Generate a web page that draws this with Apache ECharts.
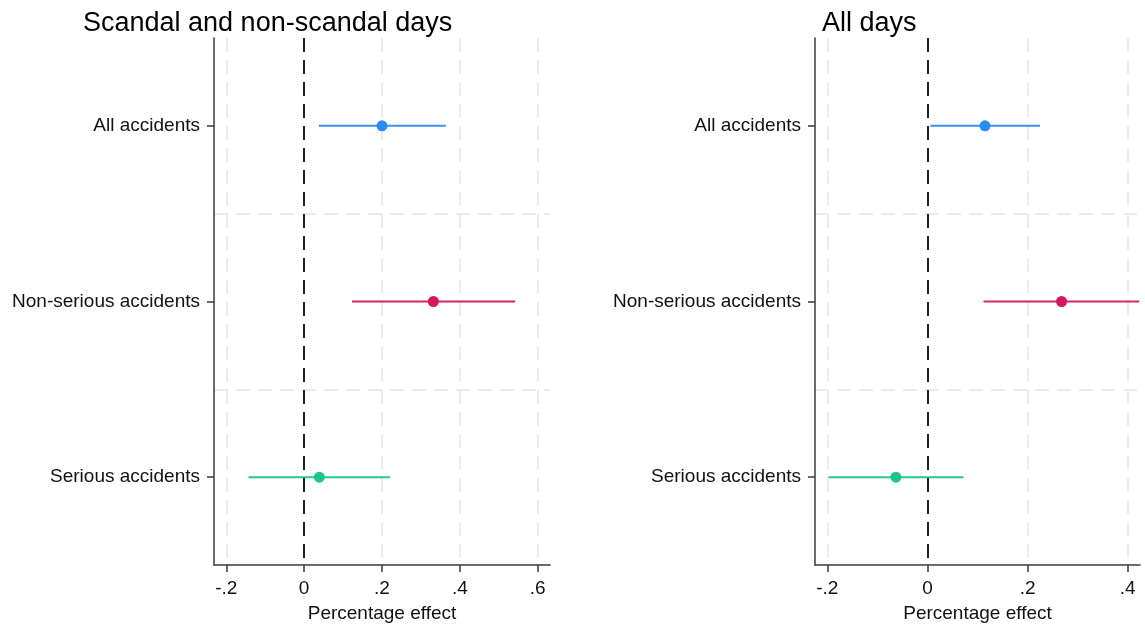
<!DOCTYPE html>
<html>
<head>
<meta charset="utf-8">
<script src="https://cdn.jsdelivr.net/npm/echarts@6/dist/echarts.min.js"></script>
<style>
  html, body { margin: 0; padding: 0; background: #fff; }
  #chart { width: 1145px; height: 628px; }
</style>
</head>
<body>
<div id="chart"></div>
<script>
// Outcome categories (top to bottom)
const categories = ['All accidents', 'Non-serious accidents', 'Serious accidents'];

// Scandal and non-scandal days: point estimates with confidence bounds
const scandalEst = [0.200, 0.332, 0.039];
const scandalLo  = [0.038, 0.123, -0.143];
const scandalHi  = [0.364, 0.542, 0.221];

// All days: point estimates with confidence bounds
const allEst = [0.115, 0.268, -0.063];
const allLo  = [0.006, 0.112, -0.198];
const allHi  = [0.225, 0.423, 0.072];

// Tick values for each panel's x axis
const leftTicks  = [-0.2, 0, 0.2, 0.4, 0.6];
const rightTicks = [-0.2, 0, 0.2, 0.4];

const colors = ['#2b8cf0', '#d7165b', '#19c68a'];
const FONT = 'Liberation Sans, Arial, Helvetica, sans-serif';

// Stata-style tick labels: -.2, 0, .2 ...
function fmt(v) {
  if (Math.abs(v) < 1e-9) return '0';
  return String(+v.toFixed(4)).replace('0.', '.');
}

function xAxisFor(gridIndex, ticks, min, max) {
  return {
    type: 'value', gridIndex: gridIndex, min: min, max: max,
    name: 'Percentage effect', nameLocation: 'middle', nameGap: 39,
    nameTextStyle: { fontFamily: FONT, fontSize: 19, color: '#111' },
    axisLine: { show: true, onZero: false, lineStyle: { color: '#3a3a3a', width: 1.5 } },
    axisTick: { show: true, length: 7, customValues: ticks, lineStyle: { color: '#3a3a3a', width: 1.5 } },
    axisLabel: { customValues: ticks, formatter: fmt, margin: 14, fontFamily: FONT, fontSize: 19, color: '#111' },
    splitLine: { show: true, showMinLine: true, showMaxLine: true,
      lineStyle: { color: '#ebebeb', width: 2, type: [14, 8] } }
  };
}

function yAxisFor(gridIndex) {
  return {
    type: 'category', gridIndex: gridIndex, data: categories, inverse: true,
    boundaryGap: true, position: 'left',
    axisLine: { show: true, onZero: false, lineStyle: { color: '#3a3a3a', width: 1.5 } },
    axisTick: { show: true, alignWithLabel: true, length: 7, lineStyle: { color: '#3a3a3a', width: 1.5 } },
    axisLabel: { margin: 14, fontFamily: FONT, fontSize: 19, color: '#111', padding: [4, 0, 0, 0] },
    splitLine: { show: true, showMinLine: false, showMaxLine: false,
      lineStyle: { color: '#ebebeb', width: 2, type: [14, 8] } }
  };
}

function whiskerSeries(idx, lo, hi) {
  return {
    type: 'custom', xAxisIndex: idx, yAxisIndex: idx, z: 2,
    encode: { x: [0, 1], y: 2 },
    data: lo.map((l, i) => [l, hi[i], i]),
    renderItem: function (params, api) {
      const a = api.coord([api.value(0), api.value(2)]);
      const b = api.coord([api.value(1), api.value(2)]);
      return {
        type: 'line',
        shape: { x1: a[0], y1: a[1], x2: b[0], y2: b[1] },
        style: { stroke: colors[params.dataIndex], lineWidth: 2, opacity: 0.95 }
      };
    },
    silent: true
  };
}

function zeroLineSeries(idx) {
  return {
    type: 'scatter', xAxisIndex: idx, yAxisIndex: idx, z: 3, data: [],
    markLine: {
      silent: true, symbol: 'none', label: { show: false },
      lineStyle: { color: '#222', width: 2, type: [14, 8] },
      data: [{ xAxis: 0 }]
    }
  };
}

function pointSeries(idx, est) {
  return {
    type: 'scatter', xAxisIndex: idx, yAxisIndex: idx, z: 4,
    symbol: 'circle', symbolSize: 11,
    data: est.map((v, i) => [v, i]),
    itemStyle: { color: p => colors[p.dataIndex], opacity: 1 },
    silent: true
  };
}

const chart = echarts.init(document.getElementById('chart'), null, { renderer: 'canvas' });
chart.setOption({
  backgroundColor: '#fff',
  animation: false,
  title: [
    { text: 'Scandal and non-scandal days', left: 78, top: 5,
      textStyle: { fontFamily: FONT, fontSize: 27, fontWeight: 'normal', color: '#000' } },
    { text: 'All days', left: 817, top: 5,
      textStyle: { fontFamily: FONT, fontSize: 27, fontWeight: 'normal', color: '#000' } }
  ],
  grid: [
    { left: 214, right: 595, top: 38, bottom: 61 },
    { left: 815, right: 5, top: 38, bottom: 61 }
  ],
  xAxis: [
    xAxisFor(0, leftTicks, -0.2316, 0.6316),
    xAxisFor(1, rightTicks, -0.2246, 0.4246)
  ],
  yAxis: [yAxisFor(0), yAxisFor(1)],
  series: [
    whiskerSeries(0, scandalLo, scandalHi),
    zeroLineSeries(0),
    pointSeries(0, scandalEst),
    whiskerSeries(1, allLo, allHi),
    zeroLineSeries(1),
    pointSeries(1, allEst)
  ]
});
</script>
</body>
</html>
